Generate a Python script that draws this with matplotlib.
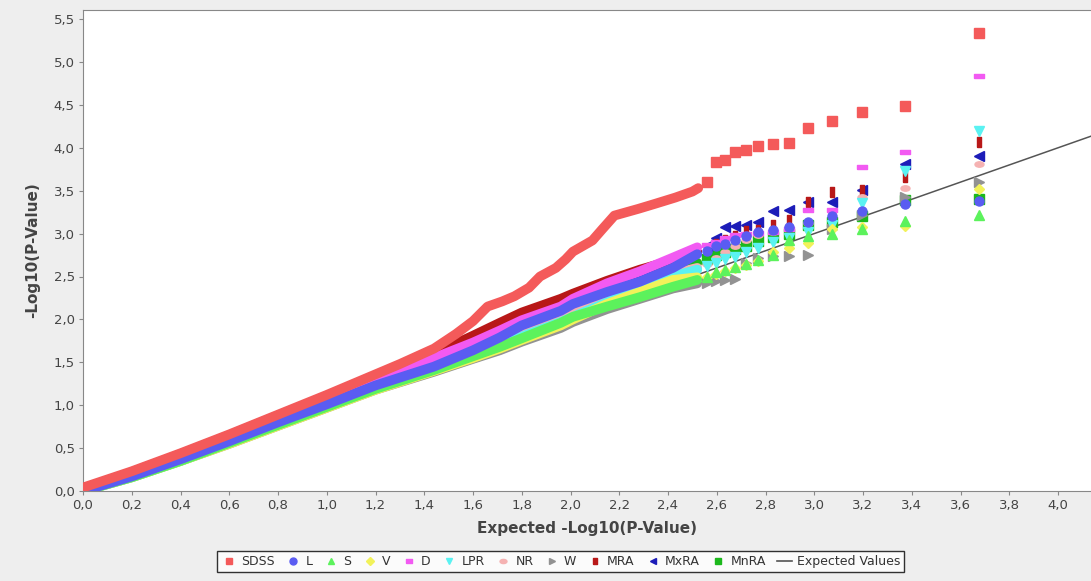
import matplotlib
matplotlib.use("Agg")
import matplotlib.pyplot as plt
from matplotlib.lines import Line2D
from matplotlib.path import Path
from matplotlib.transforms import Affine2D
from matplotlib.ticker import MultipleLocator, FuncFormatter

# expected -log10(p) of the largest observed values (discrete tail columns)
tail_x = [2.559, 2.595, 2.633, 2.674, 2.720, 2.771, 2.829, 2.896, 2.975, 3.072, 3.197, 3.373, 3.674]

# dense body of the QQ curves
body_x = [0.0, 0.2, 0.4, 0.6, 0.8, 1.0, 1.2, 1.44, 1.6, 1.71, 1.8, 1.96, 2.01, 2.15, 2.285, 2.42, 2.52]

sdss_body_x = [0.0, 0.2, 0.4, 0.6, 0.8, 1.0, 1.2, 1.3, 1.44, 1.53, 1.6, 1.66, 1.72, 1.77, 1.83, 1.875,
               1.94, 1.98, 2.01, 2.09, 2.13, 2.18, 2.28, 2.35, 2.43, 2.50, 2.524]
sdss_body_y = [0.04, 0.23, 0.44, 0.66, 0.89, 1.12, 1.36, 1.48, 1.66, 1.83, 1.98, 2.15, 2.21, 2.27, 2.37, 2.50,
               2.60, 2.70, 2.79, 2.92, 3.05, 3.21, 3.29, 3.35, 3.42, 3.49, 3.53]

mra_body = [0.03, 0.22, 0.43, 0.65, 0.88, 1.10, 1.33, 1.60, 1.81, 1.96, 2.08, 2.24, 2.30, 2.45, 2.58, 2.69, 2.78]
d_body = [0.02, 0.20, 0.40, 0.62, 0.84, 1.06, 1.29, 1.55, 1.73, 1.87, 1.99, 2.15, 2.24, 2.42, 2.56, 2.72, 2.84]
mxra_body = [0.0, 0.18, 0.38, 0.59, 0.81, 1.02, 1.24, 1.47, 1.66, 1.80, 1.95, 2.12, 2.20, 2.35, 2.48, 2.63, 2.78]
l_body = [0.0, 0.17, 0.37, 0.58, 0.80, 1.01, 1.23, 1.45, 1.64, 1.79, 1.93, 2.10, 2.18, 2.32, 2.44, 2.60, 2.76]
mnra_body = [0.0, 0.17, 0.36, 0.57, 0.78, 0.99, 1.21, 1.43, 1.61, 1.75, 1.88, 2.05, 2.12, 2.28, 2.42, 2.56, 2.66]
nr_body = [0.0, 0.17, 0.36, 0.57, 0.78, 0.99, 1.21, 1.43, 1.60, 1.73, 1.86, 2.03, 2.10, 2.26, 2.40, 2.53, 2.60]
lpr_body = [0.0, 0.16, 0.35, 0.56, 0.77, 0.98, 1.19, 1.41, 1.57, 1.69, 1.80, 1.97, 2.03, 2.20, 2.38, 2.50, 2.58]
s_body = [0.0, 0.16, 0.35, 0.56, 0.77, 0.98, 1.19, 1.41, 1.57, 1.68, 1.78, 1.96, 2.03, 2.15, 2.26, 2.38, 2.46]
v_body = [0.0, 0.16, 0.35, 0.55, 0.76, 0.97, 1.18, 1.40, 1.55, 1.66, 1.76, 1.93, 2.00, 2.18, 2.32, 2.46, 2.49]
w_body = [0.0, 0.16, 0.35, 0.55, 0.76, 0.97, 1.18, 1.39, 1.54, 1.64, 1.74, 1.90, 1.97, 2.12, 2.24, 2.36, 2.42]

sdss_tail = [3.60, 3.83, 3.86, 3.95, 3.98, 4.02, 4.04, 4.06, 4.23, 4.31, 4.42, 4.49, 5.34]
l_tail = [2.80, 2.85, 2.88, 2.92, 2.97, 3.02, 3.04, 3.08, 3.14, 3.21, 3.26, 3.34, 3.38]
s_tail = [2.50, 2.55, 2.58, 2.61, 2.65, 2.69, 2.75, 2.92, 2.97, 3.00, 3.05, 3.15, 3.22]
v_tail = [2.50, 2.53, 2.56, 2.60, 2.63, 2.68, 2.78, 2.83, 2.89, 3.05, 3.08, 3.09, 3.52]
d_tail = [2.87, 2.90, 2.95, 2.98, 3.00, 3.01, 3.02, 3.05, 3.27, 3.28, 3.78, 3.95, 4.84]
lpr_tail = [2.62, 2.66, 2.70, 2.73, 2.78, 2.83, 2.90, 2.95, 3.02, 3.10, 3.36, 3.73, 4.20]
nr_tail = [2.65, 2.72, 2.78, 2.85, 2.92, 2.98, 3.02, 3.06, 3.12, 3.26, 3.43, 3.53, 3.81]
w_tail = [2.43, 2.45, 2.46, 2.47, 2.66, 2.71, 2.74, 2.74, 2.75, 3.05, 3.22, 3.43, 3.60]
mra_tail = [2.82, 2.88, 2.93, 2.97, 3.03, 3.04, 3.10, 3.16, 3.37, 3.49, 3.51, 3.66, 4.07]
mxra_tail = [2.85, 2.95, 3.08, 3.09, 3.10, 3.14, 3.26, 3.27, 3.37, 3.37, 3.51, 3.81, 3.90]
mnra_tail = [2.70, 2.75, 2.78, 2.82, 2.86, 2.91, 2.96, 3.00, 3.10, 3.14, 3.21, 3.39, 3.40]

expected_x = [0.0, 4.3]
expected_y = [0.0, 4.3]

# marker shapes like the jfreechart defaults
hrect = [(-1, -0.5), (1, -0.5), (1, 0.5), (-1, 0.5), (-1, -0.5)]
vrect = [(-0.5, -1), (0.5, -1), (0.5, 1), (-0.5, 1), (-0.5, -1)]
hellipse = Path.unit_circle().transformed(Affine2D().scale(1.0, 0.6))

series = [
    ("SDSS", "#f45a5a", "s", sdss_body_x, sdss_body_y, sdss_tail),
    ("L", "#5a5cf2", "o", body_x, l_body, l_tail),
    ("S", "#5cf25c", "^", body_x, s_body, s_tail),
    ("V", "#f2f25a", "D", body_x, v_body, v_tail),
    ("D", "#f25af2", hrect, body_x, d_body, d_tail),
    ("LPR", "#5af2f2", "v", body_x, lpr_body, lpr_tail),
    ("NR", "#f5b2b2", hellipse, body_x, nr_body, nr_tail),
    ("W", "#929292", ">", body_x, w_body, w_tail),
    ("MRA", "#b81818", vrect, body_x, mra_body, mra_tail),
    ("MxRA", "#1c1cb8", "<", body_x, mxra_body, mxra_tail),
    ("MnRA", "#1cb81c", "s", body_x, mnra_body, mnra_tail),
]

fig = plt.figure(figsize=(10.91, 5.81), dpi=100, facecolor="#eeeeee")
ax = fig.add_axes([83 / 1091, 1 - 491 / 581, (1091 - 83) / 1091, (491 - 10) / 581])
ax.set_facecolor("white")

ax.plot(expected_x, expected_y, color="#555555", lw=1.1, zorder=2)

handles = []
n = len(series)
for i, (name, col, mk, bx, by, ty) in enumerate(series):
    z = 10 + (n - i) * 2
    ax.plot(bx, by, color=col, lw=7, solid_capstyle="round", solid_joinstyle="round", zorder=z)
    ms = 6.5 if mk != "D" else 5.0
    ax.plot(tail_x, ty, ls="none", marker=mk, ms=ms, color=col, mec=col, zorder=z + 1)
    handles.append(Line2D([], [], ls="none", marker=mk, ms=5 if mk != "D" else 4, color=col, mec=col, label=name))
handles.append(Line2D([], [], color="#555555", lw=1.2, label="Expected Values"))

ax.set_xlim(0, (1091 - 83) / 243.75)
ax.set_ylim(0, (491 - 10) / 85.8)
ax.xaxis.set_major_locator(MultipleLocator(0.2))
ax.yaxis.set_major_locator(MultipleLocator(0.5))
comma = FuncFormatter(lambda v, p: f"{v:.1f}".replace(".", ","))
ax.xaxis.set_major_formatter(comma)
ax.yaxis.set_major_formatter(comma)
ax.tick_params(direction="out", length=3, color="#888888", labelcolor="#444444", labelsize=9.5, pad=3)

for side in ["left", "bottom", "top"]:
    ax.spines[side].set_color("#888888")
ax.spines["right"].set_visible(False)

ax.set_xlabel("Expected -Log10(P-Value)", fontsize=11, fontweight="bold", color="#444444", labelpad=6)
ax.set_ylabel("-Log10(P-Value)", fontsize=11, fontweight="bold", color="#444444", labelpad=10)

leg = fig.legend(handles=handles, loc="lower center", bbox_to_anchor=(0.514, 0.004), ncol=12,
                 fontsize=9, frameon=True, fancybox=False, edgecolor="black", facecolor="white",
                 handlelength=1.2, handletextpad=0.4, columnspacing=0.85, borderpad=0.35,
                 labelcolor="#333333")
leg.get_frame().set_linewidth(1.0)

fig.savefig("out.png", dpi=100, facecolor=fig.get_facecolor())
